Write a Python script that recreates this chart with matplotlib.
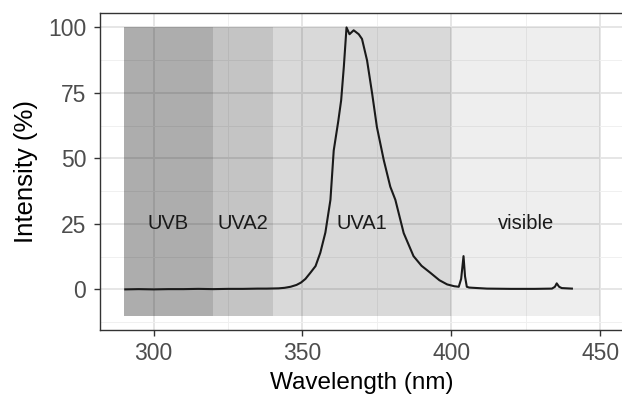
import matplotlib

matplotlib.use("Agg")
import matplotlib.pyplot as plt
from matplotlib.ticker import MultipleLocator

plt.rcParams["font.family"] = ["Liberation Sans", "DejaVu Sans"]

# %% Data

band_names = ["UVB", "UVA2", "UVA1", "visible"]
band_start = [290, 320, 340, 400]
band_end = [320, 340, 400, 450]
band_bottom = -10
band_top = 100
band_label_x = [305, 330, 370, 425]
band_label_y = 25

wavelength = [
    290.5, 295, 300, 305, 310, 315, 320, 325, 330, 335, 338, 342, 344, 346,
    348, 349.5, 351, 352.7, 354.4, 356, 357.7, 359.4, 360.5, 362, 363, 363.9,
    364.5, 364.8, 365.8, 367.2, 368.9, 370, 371.7, 373.4, 375, 377.3, 379.5,
    381.2, 384, 387.3, 390, 393, 396, 398.6, 401, 402.5, 403.3, 404.1, 404.6,
    405.2, 406, 407.4, 412, 420, 428, 433.8, 434.8, 435.4, 436.2, 437.1, 440.5,
]
intensity = [
    0.0, 0.1, 0.0, 0.1, 0.1, 0.2, 0.1, 0.2, 0.2, 0.3, 0.3, 0.4, 0.6, 1.0,
    1.7, 2.6, 4.0, 6.4, 8.9, 14.0, 21.7, 34.2, 53.0, 64.0, 72.2, 85.0,
    95.0, 100.0, 97.4, 98.9, 97.4, 95.6, 87.4, 74.8, 62.0, 49.4, 39.2,
    34.2, 21.5, 12.7, 9.0, 6.3, 3.5, 1.9, 1.2, 1.0, 4.0, 12.7, 5.0,
    1.0, 0.7, 0.6, 0.3, 0.2, 0.2, 0.3, 1.0, 2.3, 1.0, 0.5, 0.3,
]

x_ticks = [300, 350, 400, 450]
y_ticks = [0, 25, 50, 75, 100]

# %% Plot

band_alpha = [0.32, 0.23, 0.15, 0.065]

fig = plt.figure(figsize=(6.22, 3.94), dpi=100)
ax = fig.add_axes([100 / 622, 1 - 330 / 394, 524 / 622, 317 / 394])

ax.set_xlim(282, 458)
ax.set_ylim(-15.5, 105.5)

# ggplot theme_bw style grid
ax.set_xticks(x_ticks)
ax.set_yticks(y_ticks)
ax.xaxis.set_minor_locator(MultipleLocator(25))
ax.yaxis.set_minor_locator(MultipleLocator(12.5))
ax.grid(which="major", color="#e6e6e6", linewidth=1.4, zorder=0)
ax.grid(which="minor", color="#f0f0f0", linewidth=0.7, zorder=0)
ax.set_axisbelow(True)

for start, end, a in zip(band_start, band_end, band_alpha):
    ax.bar(
        start,
        band_top - band_bottom,
        width=end - start,
        bottom=band_bottom,
        align="edge",
        color="black",
        alpha=a,
        linewidth=0,
        zorder=1,
    )

for name, x in zip(band_names, band_label_x):
    ax.text(x, band_label_y, name, ha="center", va="center", fontsize=14.5,
            color="#1a1a1a", zorder=3)

ax.plot(wavelength, intensity, color="#1a1a1a", linewidth=1.5, zorder=2)

for side in ax.spines.values():
    side.set_color("#333333")
    side.set_linewidth(1.0)

ax.tick_params(which="major", length=4, width=1.0, color="#333333",
               labelsize=16.5, labelcolor="#4d4d4d", pad=5)
ax.tick_params(axis="y", which="major", pad=6)
ax.tick_params(which="minor", length=0)

ax.set_xlabel("Wavelength (nm)", fontsize=17.5, color="black", labelpad=5)
ax.set_ylabel("Intensity (%)", fontsize=18.5, color="black", labelpad=7)

fig.savefig("out.png", dpi=100)
